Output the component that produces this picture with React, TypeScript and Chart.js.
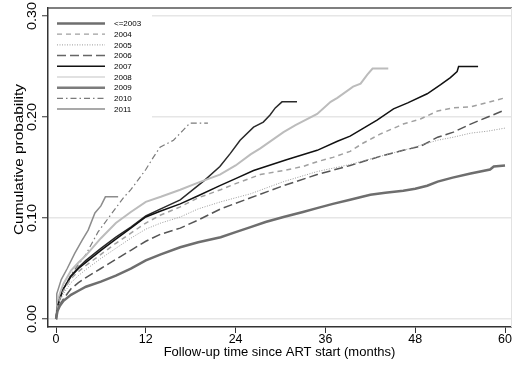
import React, { useEffect, useRef } from 'react';
import { Chart, registerables } from 'chart.js';
Chart.register(...registerables);

// ---------- data ----------
const LABELS = ['<=2003', '2004', '2005', '2006', '2007', '2008', '2009', '2010', '2011'];

const T2003 = [0, 0.2, 0.5, 1, 2, 3, 4, 6, 8, 10, 12, 14, 16.6, 19, 22, 24, 26, 28, 30.4, 33, 35, 37, 39.3, 42, 44, 46.4, 48, 49.6, 51, 53, 55.4, 58, 58.5, 60];
const V2003 = [0, 0.008, 0.013, 0.018, 0.024, 0.028, 0.032, 0.037, 0.043, 0.050, 0.058, 0.064, 0.071, 0.076, 0.081, 0.086, 0.091, 0.096, 0.101, 0.106, 0.110, 0.114, 0.118, 0.123, 0.125, 0.127, 0.129, 0.132, 0.136, 0.140, 0.144, 0.148, 0.151, 0.152];

const T2004 = [0, 0.2, 0.5, 1, 2, 3, 4, 6, 8, 10, 12, 14, 16.6, 19, 22, 24, 27.3, 30.4, 33, 35, 37, 39.3, 41, 43.3, 46.4, 48.7, 51, 53, 55.4, 57.5, 60];
const V2004 = [0, 0.012, 0.02, 0.028, 0.040, 0.047, 0.053, 0.064, 0.075, 0.085, 0.095, 0.103, 0.111, 0.120, 0.128, 0.134, 0.143, 0.147, 0.151, 0.156, 0.160, 0.166, 0.174, 0.183, 0.193, 0.198, 0.206, 0.209, 0.210, 0.214, 0.219];

const T2005 = [0, 0.2, 0.5, 1, 2, 3, 4, 6, 8, 10, 12, 14, 16.6, 19, 22, 26, 30.4, 34.9, 39.3, 43.3, 46.4, 48.7, 51, 53.1, 55.4, 57.7, 60];
const V2005 = [0, 0.01, 0.017, 0.025, 0.036, 0.043, 0.049, 0.060, 0.070, 0.080, 0.089, 0.095, 0.101, 0.109, 0.116, 0.124, 0.136, 0.146, 0.153, 0.161, 0.167, 0.172, 0.177, 0.180, 0.184, 0.186, 0.189];

const T2006 = [0, 0.2, 0.5, 1, 2, 3, 4, 6, 8, 10, 12, 14, 16.6, 19, 22, 26, 30.4, 34.9, 39.3, 43.3, 46.4, 48.7, 51, 53.1, 55.4, 57.7, 60];
const V2006 = [0, 0.008, 0.014, 0.02, 0.030, 0.036, 0.041, 0.050, 0.059, 0.068, 0.077, 0.084, 0.090, 0.098, 0.109, 0.120, 0.132, 0.143, 0.152, 0.161, 0.167, 0.171, 0.180, 0.185, 0.193, 0.200, 0.207];

const T2007 = [0, 0.2, 0.5, 1, 2, 3, 4, 6, 8, 10, 12, 14, 16.6, 19, 21.9, 24, 26.4, 30.9, 34.9, 37.6, 39.3, 41.1, 42.9, 45.1, 47, 49.6, 51.4, 52.7, 53.6, 53.8, 56.4];
const V2007 = [0, 0.012, 0.02, 0.03, 0.042, 0.050, 0.056, 0.068, 0.079, 0.090, 0.101, 0.107, 0.114, 0.122, 0.132, 0.139, 0.147, 0.158, 0.167, 0.176, 0.181, 0.189, 0.197, 0.208, 0.214, 0.223, 0.232, 0.239, 0.245, 0.250, 0.250];

const T2008 = [0, 0.2, 0.5, 1, 2, 3, 4, 6, 8, 10, 12, 14, 16.6, 19, 21.9, 24, 26, 27.3, 30.4, 32, 34.9, 36.7, 37.6, 39.7, 40.7, 41.6, 42.3, 44.4];
const V2008 = [0, 0.015, 0.025, 0.035, 0.048, 0.056, 0.063, 0.080, 0.095, 0.106, 0.116, 0.121, 0.128, 0.135, 0.143, 0.152, 0.163, 0.169, 0.185, 0.192, 0.203, 0.215, 0.219, 0.230, 0.233, 0.242, 0.248, 0.248];

const T2009 = [0, 0.2, 0.5, 1, 2, 3, 4, 6, 8, 10, 12, 14, 16.6, 19.8, 21.9, 23.3, 24.6, 26.4, 27.7, 28.6, 29.3, 30.2, 32.2];
const V2009 = [0, 0.012, 0.02, 0.03, 0.043, 0.051, 0.058, 0.070, 0.081, 0.091, 0.102, 0.109, 0.118, 0.137, 0.151, 0.164, 0.177, 0.190, 0.195, 0.202, 0.209, 0.215, 0.215];

const T2010 = [0, 0.2, 0.5, 1, 2, 3, 4, 5.6, 7, 8, 9, 10, 11.2, 12, 13, 13.9, 15.7, 17, 17.9, 20.3];
const V2010 = [0, 0.015, 0.022, 0.03, 0.044, 0.054, 0.064, 0.086, 0.100, 0.110, 0.120, 0.128, 0.140, 0.148, 0.160, 0.170, 0.177, 0.187, 0.194, 0.194];

const T2011 = [0, 0.1, 0.7, 1.5, 2.5, 3.5, 4.3, 5.2, 6, 6.6, 8.3];
const V2011 = [0, 0.025, 0.039, 0.050, 0.065, 0.078, 0.088, 0.105, 0.112, 0.121, 0.121];

const TIMES = [T2003, T2004, T2005, T2006, T2007, T2008, T2009, T2010, T2011];
const VALUES = [V2003, V2004, V2005, V2006, V2007, V2008, V2009, V2010, V2011];

const X_TICKS = [0, 12, 24, 36, 48, 60];
const Y_TICKS = [0, 0.1, 0.2, 0.3];
const Y_TICK_LABELS = ['0.00', '0.10', '0.20', '0.30'];
const X_TITLE = 'Follow-up time since ART start (months)';
const Y_TITLE = 'Cumulative probability';

// ---------- styles ----------
const COLORS = ['#6e6e6e', '#a0a0a0', '#9a9a9a', '#555555', '#111111', '#bcbcbc', '#2a2a2a', '#7a7a7a', '#8c8c8c'];
const LEGEND_COLORS = ['#6e6e6e', '#a0a0a0', '#9a9a9a', '#666666', '#111111', '#c4c4c4', '#7c7c7c', '#7a7a7a', '#8c8c8c'];
const WIDTHS = [2.5, 1.5, 1, 1.5, 1.5, 2, 1.5, 1.2, 1.5];
const LEGEND_WIDTHS = [2.5, 1.2, 1, 1.5, 1.5, 1.2, 2.5, 1.2, 1.5];
const DASHES: number[][] = [[], [5, 4], [1, 1.5], [9, 4], [], [], [], [6, 3, 1.5, 3], []];

const FONT = '"Liberation Sans", Arial, Helvetica, sans-serif';

export default function App() {
  const ref = useRef<HTMLCanvasElement>(null);

  useEffect(() => {
    const canvas = ref.current;
    if (!canvas) return;

    const datasets = LABELS.map((label, i) => ({
      label,
      data: TIMES[i].map((t, k) => ({ x: t, y: VALUES[i][k] })),
      borderColor: COLORS[i],
      backgroundColor: COLORS[i],
      borderWidth: WIDTHS[i],
      borderDash: DASHES[i],
      pointRadius: 0,
      fill: false,
      tension: 0,
    }));

    const textPlugin = {
      id: 'stataText',
      beforeDatasetsDraw(chart: any) {
        const ctx = chart.ctx;
        ctx.save();
        ctx.fillStyle = '#ffffff';
        ctx.fillRect(49, 11, 103, 109);
        ctx.restore();
      },
      afterDraw(chart: any) {
        const ctx = chart.ctx;
        const area = chart.chartArea;
        const xs = chart.scales.x;
        const ys = chart.scales.y;
        ctx.save();
        // top border + faint right border
        ctx.strokeStyle = '#555555';
        ctx.lineWidth = 1.5;
        ctx.beginPath();
        ctx.moveTo(area.left, area.top);
        ctx.lineTo(area.right + 1, area.top);
        ctx.stroke();
        ctx.strokeStyle = '#e2e2e2';
        ctx.lineWidth = 1;
        ctx.beginPath();
        ctx.moveTo(area.right + 0.5, area.top);
        ctx.lineTo(area.right + 0.5, area.bottom);
        ctx.stroke();

        ctx.fillStyle = '#000';
        // y tick labels (rotated, stretched along text direction)
        ctx.font = `12.5px ${FONT}`;
        ctx.textAlign = 'center';
        ctx.textBaseline = 'middle';
        Y_TICKS.forEach((v, i) => {
          const py = ys.getPixelForValue(v);
          ctx.save();
          ctx.translate(32.5, py);
          ctx.rotate(-Math.PI / 2);
          ctx.scale(1.15, 1);
          ctx.fillText(Y_TICK_LABELS[i], 0, 0);
          ctx.restore();
        });
        // x tick labels
        X_TICKS.forEach((v) => {
          const px = xs.getPixelForValue(v);
          ctx.fillText(String(v), px, 340);
        });
        // titles
        ctx.font = `13px ${FONT}`;
        ctx.fillText(X_TITLE, (area.left + area.right) / 2, 352.5);
        ctx.save();
        ctx.translate(19, (area.top + area.bottom) / 2 - 8);
        ctx.rotate(-Math.PI / 2);
        ctx.scale(1.18, 1);
        ctx.fillText(Y_TITLE, 0, 0);
        ctx.restore();

        // legend
        ctx.font = `8px ${FONT}`;
        ctx.textAlign = 'left';
        LABELS.forEach((label, i) => {
          const y = 23.5 + i * 10.7;
          ctx.save();
          ctx.strokeStyle = LEGEND_COLORS[i];
          ctx.lineWidth = LEGEND_WIDTHS[i];
          ctx.setLineDash(DASHES[i]);
          ctx.beginPath();
          ctx.moveTo(57, y);
          ctx.lineTo(105, y);
          ctx.stroke();
          ctx.restore();
          ctx.fillStyle = '#000';
          ctx.fillText(label, 114, y + 0.5);
        });
        ctx.restore();
      },
    };

    const chart = new Chart(canvas, {
      type: 'line',
      data: { datasets },
      plugins: [textPlugin],
      options: {
        responsive: false,
        animation: false,
        events: [],
        layout: { padding: { top: 8, right: 1, left: 0, bottom: 0 } },
        plugins: { legend: { display: false }, tooltip: { enabled: false } },
        scales: {
          x: {
            type: 'linear',
            min: -1.07,
            max: 60.8,
            afterBuildTicks: (s: any) => { s.ticks = X_TICKS.map((v) => ({ value: v })); },
            afterFit: (s: any) => { s.height = 42; },
            ticks: { display: false },
            grid: { display: true, drawOnChartArea: false, drawTicks: true, tickLength: 6, tickColor: '#333', tickWidth: 1 },
            border: { display: true, color: '#333', width: 1.5 },
          },
          y: {
            type: 'linear',
            min: -0.0079,
            max: 0.3079,
            afterBuildTicks: (s: any) => { s.ticks = Y_TICKS.map((v) => ({ value: v })); },
            afterFit: (s: any) => { s.width = 48; },
            ticks: { display: false },
            grid: { display: true, drawOnChartArea: true, color: '#e6e6e6', lineWidth: 1.5, drawTicks: true, tickLength: 6, tickColor: '#333', tickWidth: 1 },
            border: { display: true, color: '#333', width: 1.5 },
          },
        },
      },
    } as any);

    return () => chart.destroy();
  }, []);

  return (
    <div style={{ position: 'absolute', left: 0, top: 0, width: 512, height: 369, background: '#fff' }}>
      <canvas ref={ref} width={512} height={369} style={{ display: 'block' }} />
    </div>
  );
}
